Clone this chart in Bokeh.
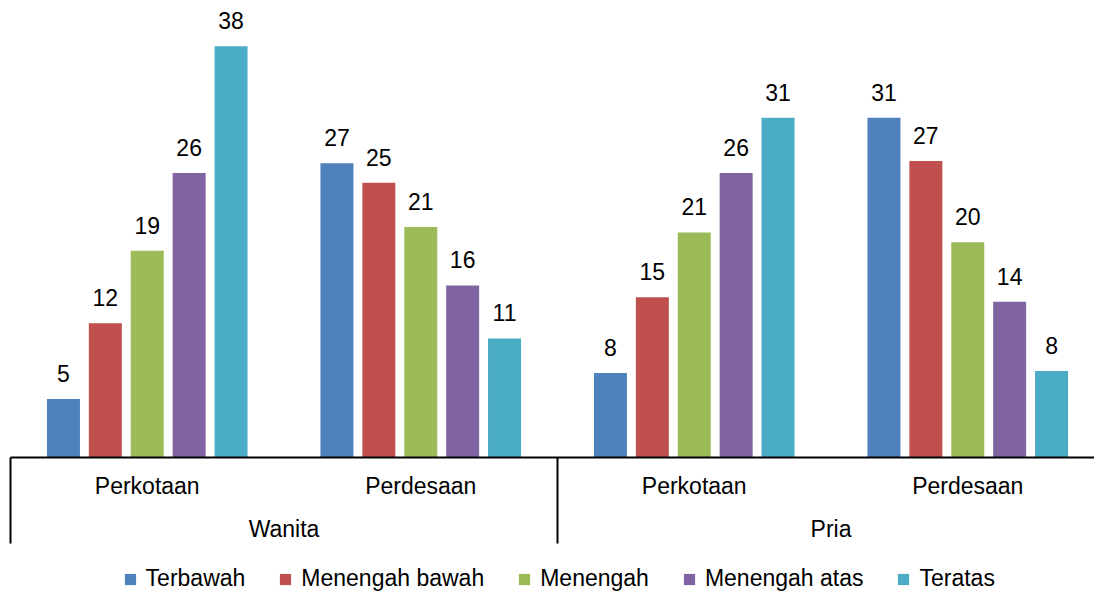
from bokeh.plotting import figure
from bokeh.models import ColumnDataSource, LabelSet, Legend, LegendItem, Range1d
from bokeh.core.properties import value
from bokeh.embed import file_html
from bokeh.resources import INLINE

# ---------------- data ----------------
groups = ["Wanita", "Pria"]
areas = ["Perkotaan", "Perdesaan"]
series = ["Terbawah", "Menengah bawah", "Menengah", "Menengah atas", "Teratas"]

terbawah = [5.4, 27.2, 7.8, 31.4]
menengah_bawah = [12.4, 25.4, 14.8, 27.4]
menengah = [19.1, 21.3, 20.8, 19.9]
menengah_atas = [26.3, 15.9, 26.3, 14.4]
teratas = [38.0, 11.0, 31.4, 8.0]

series_values = [terbawah, menengah_bawah, menengah, menengah_atas, teratas]
colors = ["#4F81BD", "#C0504D", "#9BBB59", "#8064A2", "#4BACC6"]

# ---------------- layout constants ----------------
W, H = 1094, 596
PX_X = 273.5          # pixels per category
PX_Y = 10.82          # pixels per unit
ZERO_PX = 457         # zero line distance from top of frame
LEFT_PX = 10          # first category boundary from frame left
FONT = "Liberation Sans"
FS = "23px"

x_start = -LEFT_PX / PX_X
x_end = x_start + W / PX_X
y_end = ZERO_PX / PX_Y
y_start = -(H - ZERO_PX) / PX_Y

p = figure(width=W, height=H, output_backend="svg", toolbar_location=None,
           x_range=Range1d(x_start, x_end), y_range=Range1d(y_start, y_end),
           x_axis_location=None, y_axis_location=None,
           min_border_left=0, min_border_right=0, min_border_top=0, min_border_bottom=0)
p.grid.visible = False
p.outline_line_color = None
p.background_fill_color = "white"
p.border_fill_color = "white"

cats = [(g, a) for g in groups for a in areas]
centers = [i + 0.5 for i in range(len(cats))]
n = len(series)
pitch = 41.9 / PX_X
bar_w = 33.0 / PX_X

items = []
for si, (name, vals, col) in enumerate(zip(series, series_values, colors)):
    xs = [c + (si - (n - 1) / 2) * pitch for c in centers]
    src = ColumnDataSource(dict(x=xs, top=vals, label=[f"{v:.0f}" for v in vals]))
    r = p.vbar(x="x", top="top", bottom=0, width=bar_w, source=src,
               fill_color=col, line_color=None)
    items.append(LegendItem(label=name, renderers=[r]))
    p.add_layout(LabelSet(x="x", y="top", text="label", source=src,
                          text_align="center", text_baseline="alphabetic",
                          y_offset=17, text_font=value(FONT), text_font_size=FS,
                          text_color="black"))

# axis line and category separators
p.segment(x0=[0], y0=[0], x1=[len(cats)], y1=[0], line_color="black", line_width=2)
sep_x = [i * len(areas) for i in range(len(groups) + 1)]
sep_depth = 86 / PX_Y
p.segment(x0=sep_x, y0=[0] * len(sep_x), x1=sep_x, y1=[-sep_depth] * len(sep_x),
          line_color="black", line_width=2)

# category labels
cat_src = ColumnDataSource(dict(x=centers, y=[0] * len(cats), text=[a for _, a in cats]))
p.add_layout(LabelSet(x="x", y="y", text="text", source=cat_src, text_align="center",
                      text_baseline="alphabetic", y_offset=-36, text_font=value(FONT),
                      text_font_size=FS, text_color="black"))
grp_centers = [len(areas) * (gi + 0.5) for gi in range(len(groups))]
grp_src = ColumnDataSource(dict(x=grp_centers, y=[0] * len(groups), text=groups))
p.add_layout(LabelSet(x="x", y="y", text="text", source=grp_src, text_align="center",
                      text_baseline="alphabetic", y_offset=-79, text_font=value(FONT),
                      text_font_size=FS, text_color="black"))

legend = Legend(items=items, orientation="horizontal", location=(122.6, 4),
                border_line_color=None, background_fill_alpha=0, padding=0, margin=0,
                spacing=33, glyph_width=14, glyph_height=14, label_standoff=9,
                label_text_font=FONT, label_text_font_size=FS, label_text_color="black")
p.add_layout(legend)

open("out.html", "w").write(file_html(p, INLINE))
